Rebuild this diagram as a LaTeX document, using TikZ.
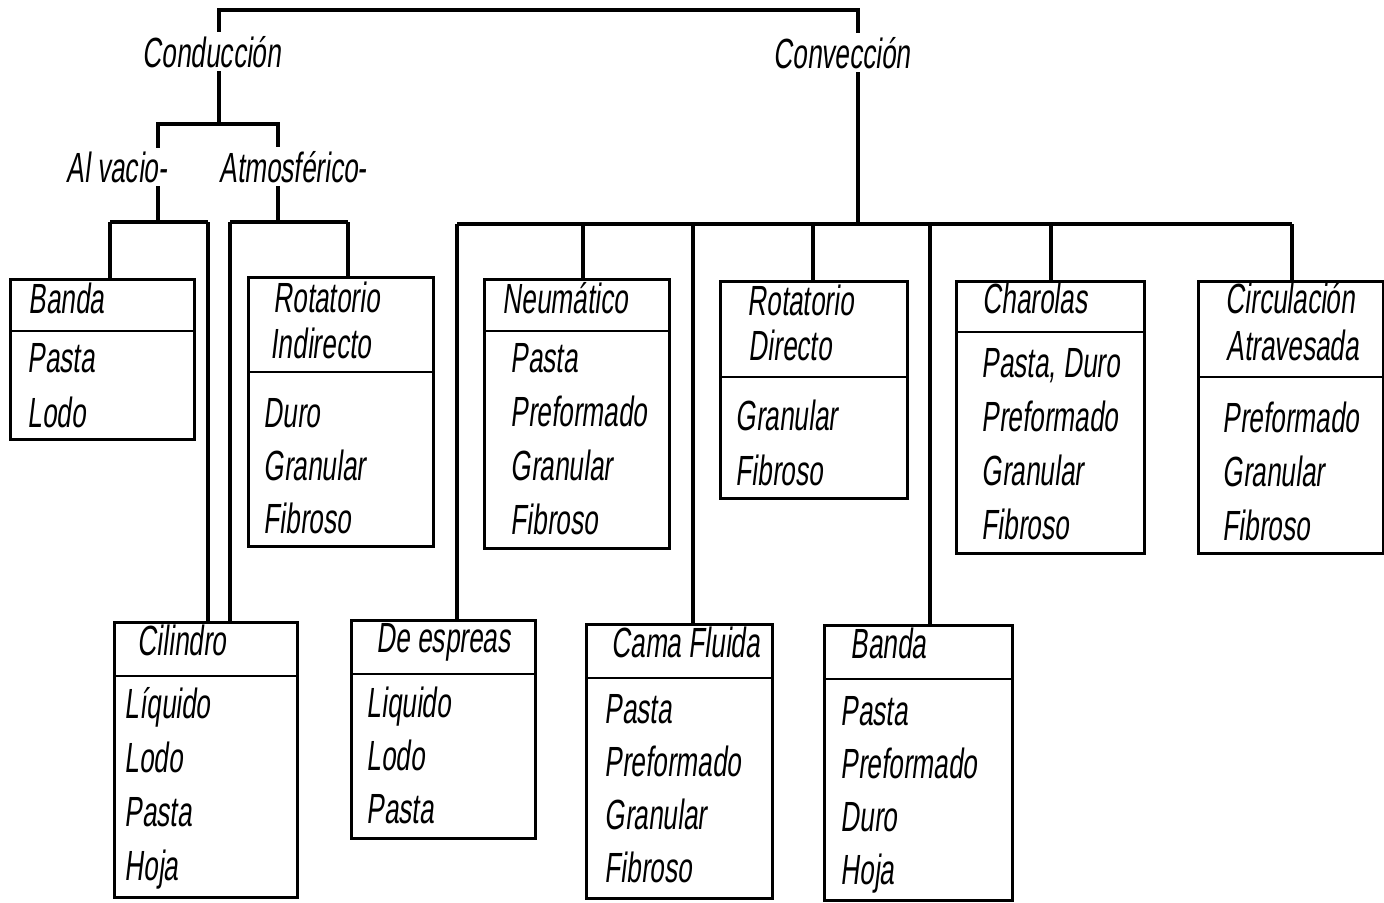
\documentclass[tikz,border=0pt]{standalone}
\usepackage{fontspec}
\newfontfamily\mano{Liberation Sans}[FakeStretch=0.62,FakeSlant=0.12]

\begin{document}
\begin{tikzpicture}[x=0.01cm,y=-0.01cm,
    linea/.style={draw=black,line width=0.9pt},
    caja/.style={draw=black,line width=0.8pt,anchor=north west,inner sep=0pt},
    texto/.style={anchor=base west,inner sep=0pt,font=\mano\fontsize{12}{14}\selectfont},
    rotulo/.style={anchor=base,fill=white,inner sep=1pt,font=\mano\fontsize{12}{14}\selectfont}]
    \useasboundingbox (0,0) rectangle (1384,902);

    % cajas: nombre/x/y/ancho/alto/division
    \foreach \n/\x/\y/\w/\h/\d in {bandaA/9/278/1.84/1.60/0.53, rotInd/247/276/1.85/2.69/0.96,
        cilindro/113/621/1.83/2.75/0.55, espreas/350/619/1.84/2.18/0.55,
        cama/585/623/1.86/2.74/0.55, bandaB/823/624/1.88/2.75/0.55,
        neumatico/483/278/1.85/2.69/0.53, rotDir/719/280/1.87/2.17/0.97,
        charolas/955/280/1.88/2.72/0.52, circulacion/1197/280/1.85/2.72/0.97}{
        \node[caja,minimum width=\w cm,minimum height=\h cm](\n)at(\x,\y){};
        \draw[line width=0.8pt] ([yshift=-\d cm]\n.north west) -- ([yshift=-\d cm]\n.north east);
    }

    % encabezados
    \node[texto](bandaA-h)at(28,313){Banda};
    \node[texto](rotInd-h)at(273,312){Rotatorio};
    \node[texto](rotInd-h2)at(270,358){Indirecto};
    \node[texto](cilindro-h)at(137,655){Cilindro};
    \node[texto](espreas-h)at(376,652){De espreas};
    \node[texto](cama-h)at(611,657){Cama Fluida};
    \node[texto](bandaB-h)at(850,658){Banda};
    \node[texto](neumatico-h)at(502,313){Neumático};
    \node[texto](rotDir-h)at(747,315){Rotatorio};
    \node[texto](rotDir-h2)at(748,360){Directo};
    \node[texto](charolas-h)at(982,313){Charolas};
    \node[texto](circulacion-h)at(1225,313){Circulación};
    \node[texto](circulacion-h2)at(1226,360){Atravesada};

    % contenidos
    \foreach \n/\x/\y/\s/\lista in {bandaA/27/372/55/{Pasta,Lodo},
        rotInd/263/427/53/{Duro,Granular,Fibroso},
        cilindro/124/718/54/{Líquido,Lodo,Pasta,Hoja},
        espreas/366/717/53/{Liquido,Lodo,Pasta},
        cama/604/723/53/{Pasta,Preformado,Granular,Fibroso},
        bandaB/840/725/53/{Pasta,Preformado,Duro,Hoja},
        neumatico/510/372/54/{Pasta,Preformado,Granular,Fibroso},
        rotDir/735/430/55/{Granular,Fibroso},
        charolas/981/377/54/{{Pasta, Duro},Preformado,Granular,Fibroso},
        circulacion/1222/432/54/{Preformado,Granular,Fibroso}}{
        \foreach \t [count=\i from 0] in \lista
            \node[texto](\n-\i)at(\x,{\y+\s*\i}){\t};
    }

    % uniones
    \coordinate (ncd) at (219,124);
    \coordinate (ncv) at (858,224);
    \coordinate (vac) at (158,222);
    \coordinate (atm) at (278,222);
    \coordinate (vacA) at (110,222);
    \coordinate (vacB) at (208,222);
    \coordinate (atmA) at (230,222);
    \coordinate (atmB) at (348,222);
    \foreach \c/\px in {cv1/457,cv2/583,cv3/693,cv4/813,cv5/930,cv6/1051,cv7/1292}
        \coordinate (\c) at (\px,224);

    \draw[linea] (ncd) -- ++(0,-114) -| (ncv);
    \draw[linea] (vac) |- (ncd) -| (atm);
    \draw[linea] (vacA) -- (vacB);
    \draw[linea] (atmA) -- (atmB);
    \draw[linea] (vacA) -- (bandaA.north -| vacA);
    \draw[linea] (vacB) -- (cilindro.north -| vacB);
    \draw[linea] (atmA) -- (cilindro.north -| atmA);
    \draw[linea] (atmB) -- (rotInd.north -| atmB);
    \draw[linea] (cv1) -- (cv7);
    \foreach \c/\b in {cv1/espreas,cv2/neumatico,cv3/cama,cv4/rotDir,cv5/bandaB,cv6/charolas,cv7/circulacion}
        \draw[linea] (\c) -- (\b.north -| \c);

    % rotulos
    \node[rotulo](conduccion)at(212,67){Conducción};
    \node[rotulo](conveccion)at(842,68){Convección};
    \node[rotulo](vacio)at(117,182){Al vacio-};
    \node[rotulo](atmosferico)at(293,182){Atmosférico-};
\end{tikzpicture}
\end{document}
